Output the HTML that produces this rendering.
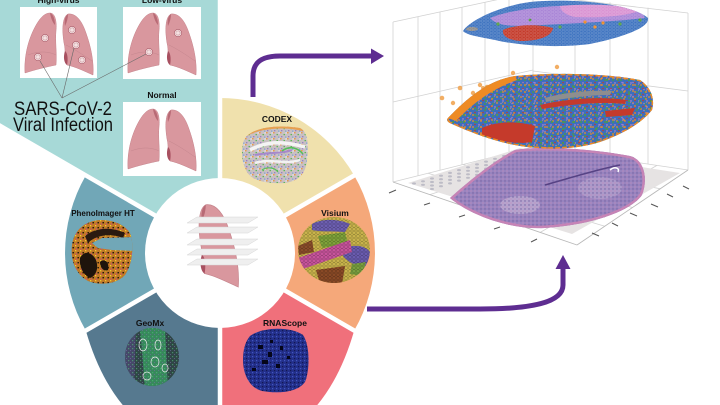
<!DOCTYPE html>
<html><head><meta charset="utf-8"><style>
html,body{margin:0;padding:0;background:#fff;width:720px;height:405px;overflow:hidden}
svg{display:block}
text{font-family:"Liberation Sans",Arial,sans-serif}
</style></head><body>
<svg width="720" height="405" viewBox="0 0 720 405" xmlns="http://www.w3.org/2000/svg">
<defs>
 <pattern id="hex" width="4" height="3.5" patternUnits="userSpaceOnUse">
   <circle cx="2" cy="1.75" r="1.6" fill="none" stroke="#000" stroke-opacity=".28" stroke-width=".5"/>
 </pattern>
 <pattern id="hex2" width="3.6" height="3" patternUnits="userSpaceOnUse">
   <circle cx="1.8" cy="1.5" r="1.4" fill="none" stroke="#fff" stroke-opacity=".3" stroke-width=".4"/>
 </pattern>
 <pattern id="spk1" width="7" height="6" patternUnits="userSpaceOnUse">
   <rect x="0" y="0" width="1.6" height="1.4" fill="#e89a4a"/>
   <rect x="3.5" y="2" width="1.5" height="1.2" fill="#5fb85a"/>
   <rect x="1" y="4" width="1.4" height="1.3" fill="#9b7dc4"/>
   <rect x="5" y="4.5" width="1.3" height="1.2" fill="#7aa3d6"/>
   <rect x="5.5" y="0.5" width="1.2" height="1" fill="#ffffff"/>
 </pattern>
 <pattern id="spk2" width="8" height="6" patternUnits="userSpaceOnUse">
   <circle cx="1" cy="1" r=".9" fill="#f08c24"/>
   <circle cx="5" cy="2" r=".9" fill="#4ea13a"/>
   <circle cx="3" cy="4.5" r=".8" fill="#c33a2c"/>
   <circle cx="7" cy="5" r=".7" fill="#d489cf"/>
   <circle cx="6.5" cy=".5" r=".6" fill="#8f8f8f"/>
 </pattern>
 <pattern id="spk2b" width="11" height="7" patternUnits="userSpaceOnUse">
   <circle cx="2" cy="3" r="1" fill="#4ea13a"/>
   <circle cx="8" cy="1" r=".9" fill="#f08c24"/>
   <circle cx="6" cy="5.5" r=".8" fill="#9c7bd0"/>
 </pattern>
 <pattern id="spk3" width="4" height="4" patternUnits="userSpaceOnUse">
   <rect x="0" y="0" width="1.2" height="1.2" fill="#4258c0"/>
   <rect x="2" y="2" width="1.2" height="1.2" fill="#111850"/>
 </pattern>
 <pattern id="spk5" width="5" height="5" patternUnits="userSpaceOnUse">
   <rect x="0" y="0" width="1.3" height="1.3" fill="#f0cc30"/>
   <rect x="2.5" y="2" width="1.4" height="1.4" fill="#1a1008"/>
   <rect x="1" y="3.5" width="1" height="1" fill="#c83aa0"/>
   <rect x="4" y="4" width="1" height="1" fill="#e07020"/>
 </pattern>
 <pattern id="spk6" width="4" height="4" patternUnits="userSpaceOnUse">
   <rect x="0" y="0" width="1.2" height="1.2" fill="#53c07a"/>
   <rect x="2" y="2" width="1" height="1" fill="#7a6aa8"/>
 </pattern>
 <pattern id="spk4" width="4" height="4" patternUnits="userSpaceOnUse">
   <circle cx="1" cy="1" r=".7" fill="#74609f"/>
   <circle cx="3" cy="3" r=".6" fill="#c98fc0"/>
 </pattern>
 <clipPath id="cCodex"><path d="M244,140 C250,128 275,124 300,128 C308,132 309,145 307,160 C306,172 300,181 285,183 C265,184 250,180 246,170 C241,160 241,150 244,140Z"/></clipPath>
 <clipPath id="cVis"><ellipse cx="334" cy="250" rx="36" ry="33"/></clipPath>
 <clipPath id="cRna"><path d="M250,336 C262,327 290,326 303,335 C310,345 310,370 305,382 C298,392 280,394 262,391 C250,388 243,375 243,360 C243,350 245,342 250,336Z"/></clipPath>
 <clipPath id="cGeo"><ellipse cx="152" cy="357" rx="27" ry="29"/></clipPath>
 <clipPath id="cPhe"><path d="M72,245 C74,230 85,221 100,220 C115,220 128,226 131,236 C134,248 132,265 125,275 C117,284 100,286 88,281 C77,275 70,262 72,245Z"/></clipPath>
 <clipPath id="cTop"><path d="M463,31 C470,20 500,6 530,2 C570,-2 630,3 648,18 C650,28 620,38 590,44 C560,48 520,46 495,40 C480,37 466,35 463,31 Z"/></clipPath>
 <clipPath id="cMid"><path d="M448,118 C470,95 490,80 515,76 C560,72 610,74 640,80 C652,88 655,100 652,110 C640,125 620,135 600,142 C575,150 545,150 520,146 C495,142 470,132 452,124 C447,122 446,120 448,118 Z"/></clipPath>
 <clipPath id="cHE"><path d="M450,198 C470,180 495,160 515,150 C545,145 600,150 630,156 C645,160 648,180 642,195 C630,212 590,225 545,228 C510,230 470,215 450,198 Z"/></clipPath>

 <g id="lp">
  <path d="M30,6 C35,6 37,14 36,24 C35,34 37,46 36,58 C26,60 14,63 5,66 C4,50 8,34 14,22 C19,12 24,6 30,6 Z" fill="#d9979e" stroke="#c5848c" stroke-width=".5"/>
  <path d="M30,6 C33,7 35,12 35,18 C33,16 31,12 30,6Z" fill="#b86a75"/>
  <path d="M8,48 C18,44 28,44 36,48" fill="none" stroke="#c5868e" stroke-width=".5"/>
  <path d="M48,7 C56,6 62,14 66,26 C71,40 74,55 73,68 C64,64 56,60 47,58 C44,50 46,44 44,36 C42,24 42,10 48,7 Z" fill="#d9979e" stroke="#c5848c" stroke-width=".5"/>
  <path d="M48,7 C45,9 44,14 45,19 C47,15 48,11 48,7Z" fill="#b86a75"/>
  <path d="M45,44 C48,46 48,54 47,58 C44,56 43,50 45,44Z" fill="#a85060"/>
  <path d="M46,38 C58,44 66,50 72,54" fill="none" stroke="#c5868e" stroke-width=".5"/>
 </g>
 <g id="vs">
  <circle r="3.6" fill="#f4e2e2" stroke="#a85a68" stroke-width=".6"/>
  <circle r="2.1" fill="none" stroke="#a85a68" stroke-width=".6" stroke-dasharray=".6 .6"/>
 </g>
</defs>

<!-- teal panel -->
<polygon points="0,0 220,0 220,253 0,126" fill="#a7d9d7"/>

<!-- ring sectors -->
<path d="M220,253 L220,98 A155,155 0 0 1 354.2,175.5 Z" fill="#f0e1ad"/>
<path d="M220,253 L354.2,175.5 A155,155 0 0 1 354.2,330.5 Z" fill="#f5a87a"/>
<path d="M220,253 L354.2,330.5 Q340,380 313,410 L220,410 Z" fill="#f0707b"/>
<path d="M220,253 L220,410 L127,410 Q100,380 85.8,330.5 Z" fill="#56798f"/>
<path d="M220,253 L85.8,330.5 A155,155 0 0 1 85.8,175.5 Z" fill="#71a7b7"/>

<!-- gaps -->
<g stroke="#fff" stroke-width="4.5">
 <line x1="220" y1="253" x2="220" y2="-5"/>
 <line x1="220" y1="253" x2="393" y2="153"/>
 <line x1="220" y1="253" x2="393" y2="353"/>
 <line x1="220" y1="253" x2="220" y2="420"/>
 <line x1="220" y1="253" x2="47" y2="353"/>
 <line x1="220" y1="253" x2="-10" y2="120"/>
</g>
<circle cx="220" cy="253" r="75" fill="#fff"/>

<!-- lung boxes -->
<rect x="20" y="7" width="77" height="71" fill="#fff"/>
<rect x="123" y="7" width="78" height="72" fill="#fff"/>
<rect x="123" y="102" width="78" height="74" fill="#fff"/>
<use href="#lp" transform="translate(20,7)"/>
<use href="#lp" transform="translate(123,7)"/>
<use href="#lp" transform="translate(123,103)"/>
<use href="#vs" transform="translate(45,38)"/>
<use href="#vs" transform="translate(38,57)"/>
<use href="#vs" transform="translate(72,30)"/>
<use href="#vs" transform="translate(76,45)"/>
<use href="#vs" transform="translate(82,60)"/>
<use href="#vs" transform="translate(149,52)"/>
<use href="#vs" transform="translate(178,33)"/>
<g stroke="#6a6a6a" stroke-width=".6">
 <line x1="62" y1="98" x2="40" y2="61"/>
 <line x1="62" y1="98" x2="74" y2="48"/>
 <line x1="62" y1="98" x2="146" y2="54"/>
</g>
<text x="58.5" y="3" font-size="8.5" font-weight="bold" text-anchor="middle" fill="#111">High-virus</text>
<text x="162" y="3" font-size="8.5" font-weight="bold" text-anchor="middle" fill="#111">Low-virus</text>
<text x="162" y="98" font-size="8.5" font-weight="bold" text-anchor="middle" fill="#111">Normal</text>
<text x="14" y="115" font-size="19" fill="#111" textLength="98" lengthAdjust="spacingAndGlyphs">SARS-CoV-2</text>
<text x="13" y="131" font-size="19" fill="#111" textLength="100" lengthAdjust="spacingAndGlyphs">Viral Infection</text>

<!-- CODEX image -->
<g clip-path="url(#cCodex)">
 <rect x="240" y="122" width="72" height="64" fill="#c8c0c2"/>
 <rect x="240" y="122" width="72" height="64" fill="url(#spk1)"/>
 <path d="M246,135 C260,127 285,125 303,130" stroke="#e8a050" stroke-width="2.5" fill="none"/>
 <path d="M250,150 C265,142 280,140 305,147" stroke="#f4f4f4" stroke-width="3.5" fill="none"/>
 <path d="M255,163 C270,158 285,165 300,160" stroke="#f2f2f2" stroke-width="2.5" fill="none"/>
 <path d="M255,155 C268,152 282,154 292,150" stroke="#a688cc" stroke-width="2" fill="none"/>
 <path d="M282,151 C290,145 298,148 303,154" stroke="#55c05a" stroke-width="1.6" fill="none"/>
 <path d="M262,170 C268,166 275,168 278,172" stroke="#55c05a" stroke-width="1.2" fill="none"/>
</g>
<text x="277" y="122" font-size="8.5" font-weight="bold" text-anchor="middle" fill="#111">CODEX</text>

<!-- Visium image -->
<g clip-path="url(#cVis)">
 <rect x="296" y="215" width="76" height="70" fill="#c9b44c"/>
 <path d="M312,224 C322,218 340,219 350,224 L345,232 C332,231 320,232 312,230Z" fill="#6d5fb2"/>
 <path d="M345,248 C355,244 366,246 370,252 L368,266 C358,268 348,262 343,256Z" fill="#6a5cb0"/>
 <path d="M318,236 L345,232 L348,244 L322,248Z" fill="#7fa33a"/>
 <path d="M298,258 L350,240 L352,252 L300,270Z" fill="#c8549c"/>
 <path d="M352,264 L366,262 L362,276 L350,274Z" fill="#79a040"/>
 <path d="M316,270 L345,266 L342,284 L320,284Z" fill="#8a4a26"/>
 <path d="M298,246 L312,240 L314,252 L299,255Z" fill="#8b4e2a"/>
 <rect x="296" y="215" width="76" height="70" fill="url(#hex)"/>
</g>
<text x="335" y="216" font-size="8.5" font-weight="bold" text-anchor="middle" fill="#111">Visium</text>

<!-- RNAScope image -->
<g clip-path="url(#cRna)">
 <rect x="240" y="324" width="72" height="72" fill="#232f8a"/>
 <rect x="240" y="324" width="72" height="72" fill="url(#spk3)"/>
 <g fill="#05061a">
  <rect x="258" y="345" width="5" height="4"/><rect x="268" y="352" width="4" height="5"/>
  <rect x="280" y="346" width="3" height="4"/><rect x="262" y="360" width="6" height="4"/>
  <rect x="276" y="364" width="4" height="4"/><rect x="287" y="356" width="3" height="3"/>
  <rect x="252" y="368" width="4" height="3"/><rect x="270" y="340" width="3" height="3"/>
 </g>
</g>
<text x="285" y="326" font-size="8.5" font-weight="bold" text-anchor="middle" fill="#111">RNAScope</text>

<!-- GeoMx image -->
<g clip-path="url(#cGeo)">
 <rect x="122" y="326" width="60" height="62" fill="#2f4646"/>
 <path d="M122,326 L136,326 L134,388 L122,388Z" fill="#4e4a78" opacity=".7"/>
 <path d="M140,328 L165,328 L168,388 L145,388Z" fill="#3a9a62" opacity=".8"/>
 <rect x="122" y="326" width="60" height="62" fill="url(#spk6)" opacity=".6"/>
 <g fill="none" stroke="#eee" stroke-width=".7">
  <ellipse cx="143" cy="345" rx="4" ry="6"/><ellipse cx="158" cy="345" rx="3" ry="5"/>
  <ellipse cx="155" cy="362" rx="4" ry="5"/><ellipse cx="147" cy="376" rx="4" ry="4"/>
  <ellipse cx="165" cy="368" rx="3" ry="4"/>
 </g>
</g>
<text x="150" y="326" font-size="8.5" font-weight="bold" text-anchor="middle" fill="#111">GeoMx</text>

<!-- PhenoImager image -->
<g clip-path="url(#cPhe)">
 <rect x="68" y="218" width="68" height="70" fill="#c07a26"/>
 <rect x="68" y="218" width="68" height="70" fill="url(#spk5)"/>
 <path d="M80,258 C84,250 92,252 96,260 C99,268 96,276 90,278 C83,275 79,266 80,258Z" fill="#1e140c"/>
 <path d="M100,262 C104,258 110,262 108,270 C104,272 100,268 100,262Z" fill="#1e140c"/>
 <path d="M85,236 C95,228 110,226 125,233 L123,238 C110,233 96,235 88,243Z" fill="#2a1a10"/>
 <polygon points="92,243 102,238 136,237 136,251 112,250 98,248" fill="#71a7b7"/>
</g>
<text x="103" y="216" font-size="8" font-weight="bold" text-anchor="middle" fill="#111">PhenoImager HT</text>

<!-- center lung -->
<g transform="translate(143.4,195.3) scale(1.3,1.35)">
  <path d="M48,7 C56,6 62,14 66,26 C71,40 74,55 73,68 C64,64 56,60 47,58 C44,50 46,44 44,36 C42,24 42,10 48,7 Z" fill="#d9979e" stroke="#c5848c" stroke-width=".5"/>
  <path d="M48,7 C45,9 44,14 45,19 C47,15 48,11 48,7Z" fill="#b86a75"/>
  <path d="M45,44 C48,46 48,54 47,58 C44,56 43,50 45,44Z" fill="#a85060"/>
</g>
<g fill="#efefef" stroke="#d6d6d6" stroke-width=".5">
 <polygon points="197,217 258,217 248,223 187,223"/>
 <polygon points="197,227 258,227 248,233 187,233"/>
 <polygon points="197,239 258,239 248,245 187,245"/>
 <polygon points="197,249 258,249 248,255 187,255"/>
 <polygon points="197,259 258,259 248,265 187,265"/>
</g>

<!-- arrows -->
<g fill="none" stroke="#5e2d91" stroke-width="5">
 <path d="M253,97 L253,76 C253,62 262,56 280,56 L372,56"/>
 <path d="M367,309 L480,309 C530,309 563,303 563,285 L563,268"/>
</g>
<polygon points="371,48.5 384,56 371,64" fill="#5e2d91"/>
<polygon points="555.5,269 563,255 570.5,269" fill="#5e2d91"/>

<!-- 3D plot grid -->
<g stroke="#d2d2d2" stroke-width=".8" fill="none">
 <line x1="393" y1="22" x2="533" y2="-8"/>
 <line x1="393" y1="102" x2="533" y2="70"/>
 <line x1="393" y1="182" x2="533" y2="147"/>
 <line x1="393" y1="22" x2="393" y2="182"/>
 <line x1="418" y1="16.6" x2="418" y2="175.8"/>
 <line x1="440" y1="11.9" x2="440" y2="170.3"/>
 <line x1="462" y1="7.2" x2="462" y2="164.8"/>
 <line x1="485" y1="2.3" x2="485" y2="159"/>
 <line x1="509" y1="-2.9" x2="509" y2="153"/>
 <line x1="533" y1="-8" x2="533" y2="147"/>
 <line x1="533" y1="-5" x2="688" y2="13"/>
 <line x1="533" y1="71" x2="688" y2="91"/>
 <line x1="533" y1="147" x2="688" y2="170"/>
 <line x1="575" y1="-2.3" x2="575" y2="153.2"/>
 <line x1="610" y1="2.4" x2="610" y2="158.4"/>
 <line x1="648" y1="7.6" x2="648" y2="164"/>
 <line x1="688" y1="13" x2="688" y2="170"/>
 <line x1="429.8" y1="194.6" x2="564" y2="151.6"/>
 <line x1="466.6" y1="207.2" x2="595" y2="156.2"/>
 <line x1="503.4" y1="219.8" x2="626" y2="160.8"/>
 <line x1="540.2" y1="232.4" x2="657" y2="165.4"/>
 <line x1="428" y1="173.3" x2="604.8" y2="226.3"/>
 <line x1="463" y1="164.5" x2="632.5" y2="207.5"/>
 <line x1="498" y1="155.8" x2="660.3" y2="188.8"/>
</g>
<g stroke="#b8b8b8" stroke-width=".9">
 <line x1="393" y1="182" x2="577" y2="245"/>
 <line x1="577" y1="245" x2="688" y2="170"/>
</g>
<g stroke="#555" stroke-width="1">
 <line x1="389" y1="193" x2="396" y2="190"/><line x1="424" y1="205" x2="430" y2="203"/>
 <line x1="459" y1="217" x2="465" y2="215"/><line x1="494" y1="229" x2="500" y2="227"/>
 <line x1="531" y1="242" x2="537" y2="239"/>
 <line x1="592" y1="233" x2="599" y2="236"/><line x1="612" y1="223" x2="618" y2="226"/>
 <line x1="630" y1="213" x2="637" y2="216"/><line x1="651" y1="204" x2="658" y2="207"/>
 <line x1="667" y1="194" x2="673" y2="197"/><line x1="683" y1="186" x2="689" y2="189"/>
</g>

<!-- slide plane -->
<polygon points="408,183 520,148 680,173 572,234" fill="#e6e3e3"/>
<g fill="#bdbcc6">
 <ellipse cx="414" cy="183.5" rx="2" ry="1.1"/><ellipse cx="423" cy="181.3" rx="2" ry="1.1"/><ellipse cx="432" cy="178.5" rx="2" ry="1.1"/><ellipse cx="441" cy="175.7" rx="2" ry="1.1"/><ellipse cx="450" cy="172.9" rx="2" ry="1.1"/><ellipse cx="459" cy="170.1" rx="2" ry="1.1"/><ellipse cx="468" cy="167.3" rx="2" ry="1.1"/><ellipse cx="477" cy="164.4" rx="2" ry="1.1"/><ellipse cx="486" cy="161.6" rx="2" ry="1.1"/><ellipse cx="495" cy="158.8" rx="2" ry="1.1"/><ellipse cx="504" cy="156" rx="2" ry="1.1"/><ellipse cx="513" cy="153.2" rx="2" ry="1.1"/>
 <ellipse cx="423" cy="184.8" rx="2" ry="1.1"/><ellipse cx="432" cy="182" rx="2" ry="1.1"/><ellipse cx="441" cy="179.2" rx="2" ry="1.1"/><ellipse cx="450" cy="176.4" rx="2" ry="1.1"/><ellipse cx="459" cy="173.6" rx="2" ry="1.1"/><ellipse cx="468" cy="170.8" rx="2" ry="1.1"/><ellipse cx="477" cy="167.9" rx="2" ry="1.1"/><ellipse cx="486" cy="165.1" rx="2" ry="1.1"/><ellipse cx="495" cy="162.3" rx="2" ry="1.1"/><ellipse cx="504" cy="159.5" rx="2" ry="1.1"/><ellipse cx="513" cy="156.7" rx="2" ry="1.1"/>
 <ellipse cx="432" cy="185.5" rx="2" ry="1.1"/><ellipse cx="441" cy="182.7" rx="2" ry="1.1"/><ellipse cx="450" cy="179.9" rx="2" ry="1.1"/><ellipse cx="459" cy="177.1" rx="2" ry="1.1"/><ellipse cx="468" cy="174.3" rx="2" ry="1.1"/><ellipse cx="477" cy="171.4" rx="2" ry="1.1"/><ellipse cx="486" cy="168.6" rx="2" ry="1.1"/><ellipse cx="495" cy="165.8" rx="2" ry="1.1"/>
 <ellipse cx="432" cy="189" rx="2" ry="1.1"/><ellipse cx="441" cy="186.2" rx="2" ry="1.1"/><ellipse cx="450" cy="183.4" rx="2" ry="1.1"/><ellipse cx="459" cy="180.6" rx="2" ry="1.1"/><ellipse cx="468" cy="177.8" rx="2" ry="1.1"/><ellipse cx="477" cy="174.9" rx="2" ry="1.1"/><ellipse cx="486" cy="172.1" rx="2" ry="1.1"/>
</g>

<!-- H&E tissue -->
<g clip-path="url(#cHE)">
 <rect x="445" y="140" width="210" height="95" fill="#9884bf"/>
 <ellipse cx="520" cy="205" rx="20" ry="9" fill="#b4a3cd"/>
 <ellipse cx="600" cy="188" rx="22" ry="11" fill="#ab99c9"/>
 <rect x="445" y="140" width="210" height="95" fill="url(#spk4)"/>
 <path d="M545,185 C570,178 595,170 620,165" stroke="#564284" stroke-width="1.5" fill="none"/>
 <path d="M610,170 C615,166 620,168 618,172" stroke="#fff" stroke-width="1.5" fill="none"/>
 <path d="M450,198 C470,180 495,160 515,150 C545,145 600,150 630,156 C645,160 648,180 642,195 C630,212 590,225 545,228 C510,230 470,215 450,198 Z" fill="none" stroke="#c684b6" stroke-width="5"/>
</g>

<!-- scattered dots -->
<g fill="#f0a04a" opacity=".85">
 <circle cx="442" cy="98" r="2.3"/><circle cx="460" cy="88" r="2.3"/><circle cx="453" cy="103" r="2.2"/>
 <circle cx="473" cy="93" r="2.2"/><circle cx="480" cy="85" r="2.2"/><circle cx="487" cy="87" r="2.2"/>
 <circle cx="513" cy="73" r="2.2"/><circle cx="557" cy="67" r="2.2"/><circle cx="483" cy="88" r="2"/>
</g>

<!-- middle layer -->
<g clip-path="url(#cMid)">
 <rect x="444" y="70" width="215" height="85" fill="#3c6ebd"/>
 <rect x="444" y="70" width="215" height="85" fill="url(#spk2)"/>
 <rect x="444" y="70" width="215" height="85" fill="url(#spk2b)"/>
 <path d="M448,118 C470,95 490,80 515,76 L517,80 C495,88 476,100 456,121Z" fill="#ee8b25"/>
 <path d="M482,128 C495,122 515,120 535,126 L532,142 C515,145 497,140 482,135Z" fill="#c53a2b"/>
 <path d="M545,98 C565,92 592,90 612,91 L610,95 C590,95 566,98 546,102Z" fill="#8e8e8e"/>
 <path d="M540,105 C565,99 600,96 626,100 L625,104 C600,101 566,105 542,109Z" fill="#c43a2c"/>
 <path d="M605,111 L635,108 L632,115 L606,117Z" fill="#c43a2c"/>
 <path d="M448,118 C470,95 490,80 515,76 C560,72 610,74 640,80 C652,88 655,100 652,110 C640,125 620,135 600,142 C575,150 545,150 520,146 C495,142 470,132 452,124 C447,122 446,120 448,118 Z" fill="none" stroke="#ee8b25" stroke-width="3" stroke-dasharray="5 2"/>
</g>

<!-- top layer -->
<g clip-path="url(#cTop)">
 <rect x="460" y="-5" width="195" height="55" fill="#3f74c0"/>
 <path d="M490,18 C520,6 580,2 640,8 L645,18 C610,22 560,24 520,26 C505,26 495,24 490,18Z" fill="#a985d6"/>
 <path d="M560,6 C590,3 625,5 640,10 C630,16 600,18 575,17 C565,15 560,10 560,6Z" fill="#d992d2"/>
 <path d="M503,30 C515,24 540,24 553,28 C552,36 540,41 520,41 C508,40 502,36 503,30Z" fill="#c43a2a"/>
 <ellipse cx="472" cy="29" rx="6" ry="2" fill="#8c8c8c"/>
 <g fill="#4f9e3a"><circle cx="498" cy="24" r="1.6"/><circle cx="560" cy="27" r="1.6"/><circle cx="620" cy="24" r="1.6"/><circle cx="640" cy="20" r="1.6"/><circle cx="530" cy="20" r="1.4"/></g>
 <g fill="#ee8a22"><circle cx="585" cy="22" r="1.6"/><circle cx="595" cy="27" r="1.6"/><circle cx="603" cy="23" r="1.6"/></g>
 <rect x="460" y="-5" width="195" height="55" fill="url(#hex2)"/>
</g>
</svg>
</body></html>
